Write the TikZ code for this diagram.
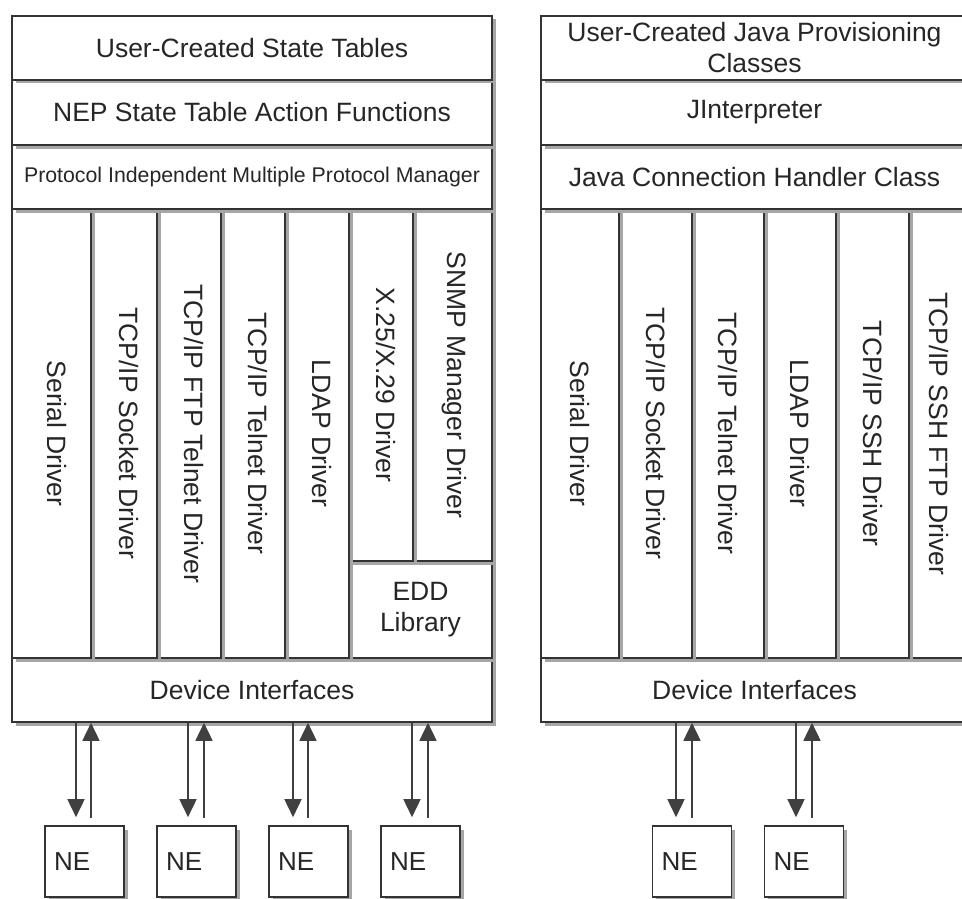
\documentclass[tikz,border=0pt]{standalone}
\usepackage{fontspec}
\setmainfont{Liberation Sans}
\usetikzlibrary{shadows,arrows.meta}
\begin{document}
\begin{tikzpicture}[x=1pt,y=-1pt,
  cell/.style={draw=black!80, line width=1.6pt, fill=white, inner sep=0pt,
    align=center, text=black!85, font=\fontsize{26.5}{31}\selectfont,
    drop shadow={opacity=1, fill=black!35, shadow xshift=3.5pt, shadow yshift=-3.5pt}},
  vtext/.style={rotate=-90, inner sep=0pt, text=black!85,
    font=\fontsize{26.5}{31}\selectfont, text height=19pt, text depth=0pt},
  nebox/.style={cell, minimum width=79pt, minimum height=71pt, text width=61pt,
    inner xsep=9pt, align=left, font=\fontsize{26}{31}\selectfont},
  arr/.style={draw=black!75, line width=1.6pt, -{Triangle[length=18pt,width=17pt]}}
]
\useasboundingbox (0,0) rectangle (962,899);

% ---------------- left stack ----------------
\node[cell, minimum width=480pt, minimum height=64pt] (ldi) at (252,690) {Device Interfaces};
\node[cell, minimum width=143pt, minimum height=97pt] (edd) at (420.5,609.5) {EDD\\Library};
\node[cell, minimum width=79pt, minimum height=352pt] (lc7) at (452.5,385) {};
\node[cell, minimum width=64pt, minimum height=352pt] (lc6) at (381,385) {};
\node[cell, minimum width=64pt, minimum height=449pt] (lc5) at (317,433.5) {};
\node[cell, minimum width=64pt, minimum height=449pt] (lc4) at (253,433.5) {};
\node[cell, minimum width=64pt, minimum height=449pt] (lc3) at (189,433.5) {};
\node[cell, minimum width=66pt, minimum height=449pt] (lc2) at (124,433.5) {};
\node[cell, minimum width=79pt, minimum height=449pt] (lc1) at (51.5,433.5) {};
\node[cell, minimum width=480pt, minimum height=64pt, font=\fontsize{21.3}{25}\selectfont] (lr3) at (252,177) {Protocol Independent Multiple Protocol Manager};
\node[cell, minimum width=480pt, minimum height=65pt] (lr2) at (252,112.5) {NEP State Table Action Functions};
\node[cell, minimum width=480pt, minimum height=64pt] (lr1) at (252,48) {User-Created State Tables};

\node[vtext, yshift=5pt] (lt1) at (lc1) {Serial Driver};
\node[vtext, yshift=5pt] (lt2) at (lc2) {TCP/IP Socket Driver};
\node[vtext, yshift=5pt] (lt3) at (lc3) {TCP/IP FTP Telnet Driver};
\node[vtext, yshift=5pt] (lt4) at (lc4) {TCP/IP Telnet Driver};
\node[vtext, yshift=5pt] (lt5) at (lc5) {LDAP Driver};
\node[vtext, yshift=5pt] (lt6) at (lc6) {X.25/X.29 Driver};
\node[vtext, yshift=4pt] (lt7) at (lc7) {SNMP Manager Driver};

% ---------------- right stack ----------------
\node[cell, minimum width=427pt, minimum height=64pt] (rdi) at (754.5,690) {Device Interfaces};
\node[cell, minimum width=59pt, minimum height=449pt] (rc6) at (938.5,433.5) {};
\node[cell, minimum width=73pt, minimum height=449pt] (rc5) at (872.5,433.5) {};
\node[cell, minimum width=72pt, minimum height=449pt] (rc4) at (800,433.5) {};
\node[cell, minimum width=72pt, minimum height=449pt] (rc3) at (728,433.5) {};
\node[cell, minimum width=73pt, minimum height=449pt] (rc2) at (655.5,433.5) {};
\node[cell, minimum width=78pt, minimum height=449pt] (rc1) at (580,433.5) {};
\node[cell, minimum width=427pt, minimum height=64pt] (rr3) at (754.5,177) {Java Connection Handler Class};
\node[cell, minimum width=427pt, minimum height=65pt] (rr2) at (754.5,112.5) {JInterpreter};
\node[cell, minimum width=427pt, minimum height=64pt] (rr1) at (754.5,48) {User-Created Java Provisioning\\Classes};

\node[vtext] (rt1) at (rc1) {Serial Driver};
\node[vtext] (rt2) at (rc2) {TCP/IP Socket Driver};
\node[vtext] (rt3) at (rc3) {TCP/IP Telnet Driver};
\node[vtext] (rt4) at (rc4) {LDAP Driver};
\node[vtext] (rt5) at (rc5) {TCP/IP SSH Driver};
\node[vtext] (rt6) at (rc6) {TCP/IP SSH FTP Driver};

% ---------------- NE boxes ----------------
\node[nebox] (ne1) at (84.5,861.5) {NE};
\node[nebox] (ne2) at (196.5,861.5) {NE};
\node[nebox] (ne3) at (308.5,861.5) {NE};
\node[nebox] (ne4) at (420.5,861.5) {NE};
\node[nebox] (ne5) at (692,861.5) {NE};
\node[nebox] (ne6) at (804,861.5) {NE};

% ---------------- arrows ----------------
\coordinate (d1) at (76,0);  \coordinate (u1) at (91,0);
\coordinate (d2) at (188,0); \coordinate (u2) at (204,0);
\coordinate (d3) at (293,0); \coordinate (u3) at (308,0);
\coordinate (d4) at (412,0); \coordinate (u4) at (428,0);
\coordinate (d5) at (676,0); \coordinate (u5) at (692,0);
\coordinate (d6) at (796,0); \coordinate (u6) at (812,0);

\foreach \i/\s in {1/ldi,2/ldi,3/ldi,4/ldi,5/rdi,6/rdi}{
  \draw[arr, shorten >=8pt] (\s.south -| d\i) -- (ne\i.north -| d\i);
  \draw[arr, shorten <=7pt] (ne\i.north -| u\i) -- (\s.south -| u\i);
}
\end{tikzpicture}
\end{document}
